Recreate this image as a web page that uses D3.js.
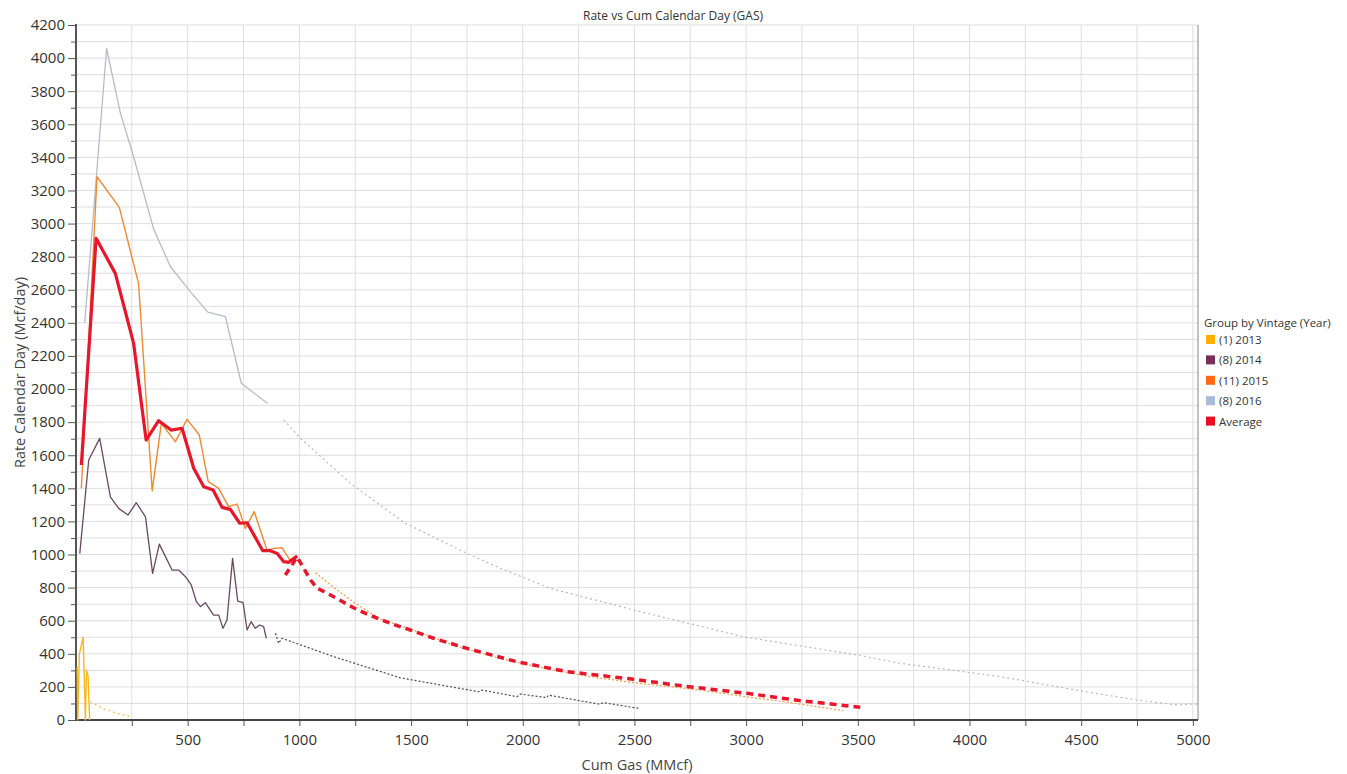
<!DOCTYPE html>
<html>
<head>
<meta charset="utf-8">
<script src="https://cdn.jsdelivr.net/npm/d3@7"></script>
<style>
body { margin: 0; background: #fff; font-family: "Open Sans", "Noto Sans", sans-serif; }
.grid line { stroke: #dedede; stroke-width: 1; }
.axis text { fill: #333; font-size: 15px; font-family: "Open Sans", "Noto Sans", sans-serif; }
.axis path { display: none; }
.axis line { stroke: #555; }
</style>
</head>
<body>
<div id="sv"></div>
<script>
// tick labels
var xTickLabels = [500, 1000, 1500, 2000, 2500, 3000, 3500, 4000, 4500, 5000];
var yTickLabels = [0, 200, 400, 600, 800, 1000, 1200, 1400, 1600, 1800, 2000, 2200, 2400, 2600, 2800, 3000, 3200, 3400, 3600, 3800, 4000, 4200];

// legend categories
var categories = ["(1) 2013", "(8) 2014", "(11) 2015", "(8) 2016", "Average"];
var swatchColors = ["#ffb000", "#7a2e5c", "#ff6a10", "#a9b9d9", "#e8101e"];

// [cum gas, rate] pairs
var gas2013 = [[5,320],[8,0],[15,400],[32,500],[42,0],[47,300],[54,265],[61,0]];
var gas2013Fc = [[64,111],[120,70],[180,42],[243,20]];

var gas2014 = [[17,1007],[57,1571],[106,1702],[154,1349],[191,1279],[233,1239],[270,1313],[311,1228],[343,886],[373,1063],[430,906],[460,906],[490,866],[516,816],[539,715],[557,685],[579,709],[616,634],[639,634],[658,554],[676,604],[701,977],[724,719],[748,709],[766,544],[784,594],[803,554],[822,574],[840,564],[852,494]];
var gas2014Fc = [[893,524],[907,463],[922,494],[1153,383],[1452,255],[1676,201],[1802,171],[1817,181],[1974,141],[1989,157],[2108,135],[2115,150],[2347,95],[2360,105],[2518,71]];

var gas2015 = [[24,1400],[94,3283],[194,3098],[280,2639],[341,1385],[382,1792],[445,1682],[497,1817],[552,1722],[592,1440],[639,1400],[683,1289],[721,1305],[758,1158],[798,1259],[855,1027],[885,1037],[922,1041],[957,967],[990,991]];
var gas2015Fc = [[1072,890],[1150,805],[1250,705],[1363,610],[1500,548],[1700,448],[1900,372],[2100,312],[2300,262],[2500,225],[2800,180],[3000,141],[3200,105],[3436,56]];

var gas2016 = [[39,2400],[137,4058],[199,3666],[258,3404],[348,2965],[423,2739],[508,2595],[590,2465],[669,2437],[740,2035],[858,1913]];
var gas2016Fc = [[930,1813],[1005,1702],[1229,1430],[1470,1192],[1750,1007],[1900,917],[2123,796],[2496,665],[2988,503],[3496,393],[3690,343],[4138,262],[4503,175],[4749,121],[4928,91],[5000,97],[5023,95]];

var average = [[24,1541],[90,2911],[176,2699],[258,2276],[314,1692],[370,1809],[426,1752],[475,1763],[527,1521],[572,1410],[614,1390],[654,1285],[691,1273],[733,1189],[766,1192],[836,1023],[870,1023],[900,1007],[930,957],[952,953],[990,991]];
var averageFc = [[937,876],[990,985],[1050,846],[1080,796],[1125,766],[1180,725],[1240,680],[1303,640],[1407,584],[1497,544],[1601,494],[1750,433],[1974,352],[2198,292],[2496,246],[2720,205],[3004,161],[3242,117],[3391,95],[3511,77]];

var width = 1347, height = 774;
var mLeft = 76, mRight = 1198, mTop = 25, mBottom = 720;

var svg = d3.select("#sv")
    .append("svg")
    .attr("width", width)
    .attr("height", height);

var x = d3.scaleLinear()
    .domain([0, 5023])
    .range([mLeft, mRight]);

var y = d3.scaleLinear()
    .domain([0, 4200])
    .range([mBottom, mTop]);

// grid: every 250 across, every 100 up
svg.append("g")
    .attr("class", "grid")
    .selectAll("line")
    .data(d3.range(250, 5001, 250))
    .enter().append("line")
    .attr("x1", function(d) { return x(d); })
    .attr("x2", function(d) { return x(d); })
    .attr("y1", mTop)
    .attr("y2", mBottom);

svg.append("g")
    .attr("class", "grid")
    .selectAll("line")
    .data(d3.range(100, 4201, 100))
    .enter().append("line")
    .attr("x1", mLeft)
    .attr("x2", mRight)
    .attr("y1", function(d) { return y(d); })
    .attr("y2", function(d) { return y(d); });

// right frame
svg.append("line")
    .attr("x1", mRight).attr("x2", mRight)
    .attr("y1", mTop).attr("y2", mBottom)
    .attr("stroke", "#888")
    .attr("stroke-width", 1);

// minor ticks
svg.append("g")
    .attr("class", "axis")
    .attr("transform", "translate(" + mLeft + ",0)")
    .call(d3.axisLeft(y).tickValues(d3.range(100, 4200, 200)).tickSize(5).tickFormat(""));

var yAxis = d3.axisLeft(y)
    .tickValues(yTickLabels)
    .tickSize(8)
    .tickPadding(3)
    .tickFormat(d3.format("d"));

svg.append("g")
    .attr("class", "axis")
    .attr("transform", "translate(" + mLeft + ",0)")
    .call(yAxis);

svg.append("g")
    .attr("class", "axis")
    .attr("transform", "translate(0," + mBottom + ")")
    .call(d3.axisBottom(x).tickValues(d3.range(250, 5001, 500)).tickSize(6).tickFormat(""));

var xAxis = d3.axisBottom(x)
    .tickValues(xTickLabels)
    .tickSize(6)
    .tickPadding(8)
    .tickFormat(d3.format("d"));

svg.append("g")
    .attr("class", "axis")
    .attr("transform", "translate(0," + mBottom + ")")
    .call(xAxis);

// axis lines
svg.append("line")
    .attr("x1", mLeft).attr("x2", mLeft)
    .attr("y1", mTop - 1).attr("y2", mBottom + 1)
    .attr("stroke", "#555").attr("stroke-width", 2);
svg.append("line")
    .attr("x1", mLeft).attr("x2", mRight)
    .attr("y1", mBottom).attr("y2", mBottom)
    .attr("stroke", "#444").attr("stroke-width", 2);

var line = d3.line()
    .x(function(d) { return x(d[0]); })
    .y(function(d) { return y(d[1]); });

var series = [
    { data: gas2016Fc, color: "#b4b8c2", w: 1.2, dash: "2,3" },
    { data: gas2016, color: "#b8bcc8", w: 1.3, dash: null },
    { data: gas2014Fc, color: "#5a4250", w: 1.2, dash: "2,2" },
    { data: gas2014, color: "#6a4a5e", w: 1.3, dash: null },
    { data: gas2013Fc, color: "#f0c050", w: 1.2, dash: "2,3" },
    { data: gas2013, color: "#f5b820", w: 1.4, dash: null },
    { data: gas2015Fc, color: "#f09a40", w: 1.2, dash: "2,2" },
    { data: gas2015, color: "#f08a30", w: 1.4, dash: null },
    { data: averageFc, color: "#e8162a", w: 3.5, dash: "7,5" },
    { data: average, color: "#e8162a", w: 3.2, dash: null }
];

svg.append("g")
    .selectAll("path")
    .data(series)
    .enter().append("path")
    .attr("d", function(d) { return line(d.data); })
    .attr("fill", "none")
    .attr("stroke", function(d) { return d.color; })
    .attr("stroke-width", function(d) { return d.w; })
    .attr("stroke-linejoin", "round")
    .attr("stroke-dasharray", function(d) { return d.dash; });

// titles
svg.append("text")
    .attr("x", 673).attr("y", 20)
    .attr("text-anchor", "middle")
    .attr("font-size", "12px")
    .attr("fill", "#333")
    .text("Rate vs Cum Calendar Day (GAS)");

svg.append("text")
    .attr("x", 637).attr("y", 770)
    .attr("text-anchor", "middle")
    .attr("font-size", "14.5px")
    .attr("fill", "#444")
    .text("Cum Gas (MMcf)");

svg.append("text")
    .attr("transform", "translate(25," + ((mTop + mBottom) / 2) + ") rotate(-90)")
    .attr("text-anchor", "middle")
    .attr("font-size", "14.5px")
    .attr("fill", "#444")
    .text("Rate Calendar Day (Mcf/day)");

// legend
var legend = svg.append("g")
    .attr("transform", "translate(1204,327)");

legend.append("text")
    .attr("x", 0).attr("y", 0)
    .attr("font-size", "11.5px")
    .attr("fill", "#333")
    .text("Group by Vintage (Year)");

var item = legend.selectAll("g.item")
    .data(categories)
    .enter().append("g")
    .attr("class", "item")
    .attr("transform", function(d, i) { return "translate(0," + (17 + i * 20.4) + ")"; });

item.append("rect")
    .attr("x", 2).attr("y", -9)
    .attr("width", 9).attr("height", 9)
    .attr("fill", function(d, i) { return swatchColors[i]; });

item.append("text")
    .attr("x", 15).attr("y", 0)
    .attr("font-size", "11.5px")
    .attr("fill", "#333")
    .text(function(d) { return d; });
</script>
</body>
</html>
